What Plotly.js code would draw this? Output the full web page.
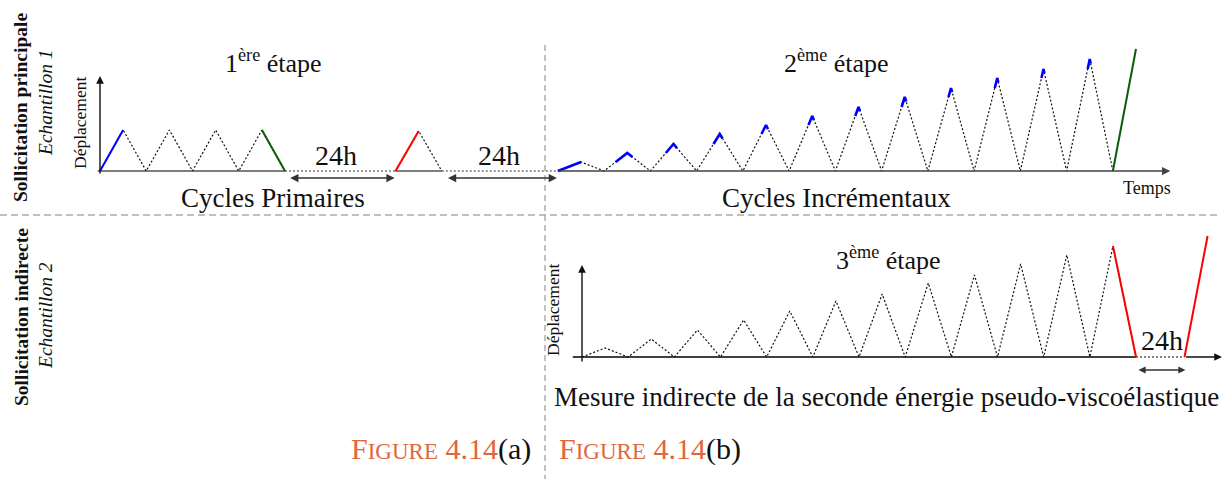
<!DOCTYPE html>
<html>
<head>
<meta charset="utf-8">
<script src="https://cdn.plot.ly/plotly-3.0.1.min.js"></script>
<style>html,body{margin:0;padding:0;background:#fff;}#chart{width:1226px;height:479px;}</style>
</head>
<body>
<div id="chart"></div>
<script>
// ---------------- data (time in cycles, displacement in arbitrary units) ----------------
const primaryPeaks = [4.1, 4.1, 4.1, 4.1];          // 1st stage: primary cycles
const restGaps = [2.39, 2.51];                       // "24h" rests (in cycle units)
const reloadPeak = 4.0;                              // single reload cycle after first rest
const incrementalPeaks = [0.9, 1.8, 2.7, 3.7, 4.6, 5.5, 6.4, 7.4, 8.3, 9.3, 10.2, 11.2]; // 2nd stage
const finalLoadTop = 12.2;                           // final loading (green)
const indirectPeaks = [0.9, 1.8, 2.7, 3.7, 4.6, 5.6, 6.3, 7.4, 8.2, 9.3, 10.2, 11.1];    // 3rd stage
const indirectRest = 1.05;
const indirectFinal = 12.1;
const stageTitles = ['1<sup>ère</sup> étape', '2<sup>ème</sup> étape', '3<sup>ème</sup> étape'];
const restLabel = '24h';

// ---------------- helpers ----------------
function wave(t0, peaks) {
  const x = [], y = [];
  peaks.forEach((p, i) => { if (i === 0) { x.push(t0); y.push(0); } x.push(t0 + i + 0.5); y.push(p); x.push(t0 + i + 1); y.push(0); });
  return {x, y};
}
function seg(x0, y0, x1, y1) { return {x: [x0, x1], y: [y0, y1]}; }
const DOT = '2px,2px';
const W = 1226, H = 479;
const P = (px, py) => ({x: px / W, y: 1 - py / H});

// timeline, top panel
const tPrimEnd = primaryPeaks.length;
const tReload = tPrimEnd + restGaps[0];
const tIncr = tReload + 1 + restGaps[1];
const tIncrEnd = tIncr + incrementalPeaks.length;
// timeline, bottom panel
const tIndEnd = indirectPeaks.length;
const tIndRise = tIndEnd + indirectRest;

const traces = [];
function add(d, color, width, dash, xa, ya) {
  traces.push({x: d.x, y: d.y, mode: 'lines', xaxis: xa || 'x', yaxis: ya || 'y', hoverinfo: 'skip',
    line: {color, width, dash: dash || 'solid'}, showlegend: false});
}
// top baseline pieces
add(seg(-0.05, 0, tPrimEnd, 0), '#555', 1.5);
add(seg(tPrimEnd, 0, tReload, 0), '#333', 1.2, DOT);
add(seg(tReload, 0, tReload + 1, 0), '#555', 1.5);
add(seg(tReload + 1, 0, tIncr, 0), '#333', 1.2, DOT);
// primary cycles
add(wave(0, primaryPeaks), '#111', 1.2, DOT);
add(seg(0, 0, 0.5, primaryPeaks[0]), '#0000ff', 2);
add(seg(tPrimEnd - 0.5, primaryPeaks[primaryPeaks.length - 1], tPrimEnd, 0), '#0a5c0a', 2);
// reload cycle
add(wave(tReload, [reloadPeak]), '#111', 1.2, DOT);
add(seg(tReload, 0, tReload + 0.5, reloadPeak), '#ff0000', 2);
// incremental cycles
add(wave(tIncr, incrementalPeaks), '#111', 1.2, DOT);
{
  const bx = [], by = [];
  incrementalPeaks.forEach((p, i) => {
    const prev = i === 0 ? 0 : incrementalPeaks[i - 1];
    const tp = tIncr + i + 0.5;
    const fr = prev / p;                       // rising side: from previous peak level
    const ff = 1 - 0.45 * (1 - fr);            // falling side: short cap
    bx.push(tp - 0.5 * (1 - fr), tp, i === 0 ? tp : tp + 0.5 * (1 - ff), null);
    by.push(prev, p, i === 0 ? p : p * ff, null);
  });
  add({x: bx, y: by}, '#0000ff', 2.6);
}
add(seg(tIncrEnd, 0, tIncrEnd + 0.5, finalLoadTop), '#0a5c0a', 2);

// bottom panel
add(seg(-0.2, 0, tIndEnd, 0), '#000', 1.4, 'solid', 'x2', 'y2');
add(seg(tIndEnd, 0, tIndRise, 0), '#000', 1.2, DOT, 'x2', 'y2');
add(wave(0, indirectPeaks), '#111', 1.2, DOT, 'x2', 'y2');
add(seg(tIndEnd - 0.5, indirectPeaks[indirectPeaks.length - 1], tIndEnd, 0), '#ff0000', 2, 'solid', 'x2', 'y2');
add(seg(tIndRise, 0, tIndRise + 0.5, indirectFinal), '#ff0000', 2, 'solid', 'x2', 'y2');

// ---------------- axes (pixel-calibrated) ----------------
const topPx = {t0: 100, dt: 46.25, y0: 171, dy: 10};
const botPx = {t0: 582, dt: 46.17, y0: 357, dy: 10};
const xr = c => [-c.t0 / c.dt, (W - c.t0) / c.dt];
const yr = c => [-(H - c.y0) / c.dy, c.y0 / c.dy];
const hid = {visible: false, fixedrange: true, domain: [0, 1]};

// ---------------- annotations ----------------
const serif = '"Liberation Serif", "Times New Roman", serif';
const ann = [];
function txt(px, py, text, size, opts) {
  ann.push(Object.assign({xref: 'paper', yref: 'paper', ...P(px, py), text, showarrow: false,
    xanchor: 'center', yanchor: 'middle', font: {family: serif, size, color: '#111'}}, opts || {}));
}
function arrow(xa, ya, x0, y0, x1, y1, both, color, width) {
  ann.push({xref: xa, yref: ya, axref: xa, ayref: ya, x: x1, y: y1, ax: x0, ay: y0, text: '', showarrow: true,
    arrowhead: 2, startarrowhead: 2, arrowside: both ? 'end+start' : 'end', arrowsize: 1.1, startarrowsize: 1.1,
    arrowwidth: width || 1.4, arrowcolor: color || '#111', standoff: 0, startstandoff: 0});
}
// axis arrows
arrow('x', 'y', 0, -0.4, 0, 9.5);
arrow('x', 'y', tIncr, 0, 23.14, 0, false, '#444', 1.5);
arrow('x2', 'y2', 0, -0.6, 0, 9.2);
arrow('x2', 'y2', tIndRise, 0, 13.86, 0, false, '#111', 1.4);
// 24h double arrows
arrow('x', 'y', tPrimEnd + 0.08, -0.7, tReload - 0.02, -0.7, true, '#333', 1.5);
arrow('x', 'y', tReload + 1.1, -0.7, tIncr - 0.02, -0.7, true, '#333', 1.5);
arrow('x2', 'y2', tIndEnd + 0.02, -1.3, tIndRise + 0.02, -1.3, true, '#333', 1.3);

txt(273, 62, stageTitles[0], 26);
txt(836, 62, stageTitles[1], 26);
txt(888, 258, stageTitles[2], 26);
txt(336, 155, restLabel, 28);
txt(499, 155, restLabel, 28);
txt(1162, 340, restLabel, 28);
txt(273, 198, 'Cycles Primaires', 27);
txt(836, 198, 'Cycles Incrémentaux', 27);
txt(1147, 188, 'Temps', 18);
txt(886, 397, 'Mesure indirecte de la seconde énergie pseudo-viscoélastique', 27);
txt(80, 123, 'Déplacement', 17.5, {textangle: -90});
txt(553, 310, 'Déplacement', 17.5, {textangle: -90});
txt(21, 108, '<b>Sollicitation principale</b>', 19.5, {textangle: -90});
txt(45, 103, '<i>Echantillon 1</i>', 19.5, {textangle: -90});
txt(21, 317, '<b>Sollicitation indirecte</b>', 19.5, {textangle: -90});
txt(45, 316, '<i>Echantillon 2</i>', 19.5, {textangle: -90});
const OR = '#e0673b';
const fig = l => `<span style="color:${OR}">F</span><span style="color:${OR};font-size:23px">IGURE</span><span style="color:${OR}"> 4.14</span>(${l})`;
txt(533, 449, fig('a'), 30, {xanchor: 'right'});
txt(557, 449, fig('b'), 30, {xanchor: 'left'});

const shapes = [
  {type: 'line', xref: 'paper', yref: 'paper', x0: 545 / W, x1: 545 / W, y0: 1 - 45 / H, y1: 0, line: {color: '#999', width: 1.2, dash: '6px,4px'}},
  {type: 'line', xref: 'paper', yref: 'paper', x0: 0, x1: 1220 / W, y0: 1 - 215 / H, y1: 1 - 215 / H, line: {color: '#aaa', width: 1.5, dash: '7px,4px'}}
];

const layout = {
  width: W, height: H, margin: {l: 0, r: 0, t: 0, b: 0, pad: 0},
  paper_bgcolor: '#fff', plot_bgcolor: 'rgba(0,0,0,0)', showlegend: false,
  xaxis: {...hid, range: xr(topPx)}, yaxis: {...hid, range: yr(topPx)},
  xaxis2: {...hid, range: xr(botPx), anchor: 'y2'}, yaxis2: {...hid, range: yr(botPx), anchor: 'x2'},
  annotations: ann, shapes
};
Plotly.newPlot('chart', traces, layout, {staticPlot: true, displayModeBar: false});
</script>
</body>
</html>
